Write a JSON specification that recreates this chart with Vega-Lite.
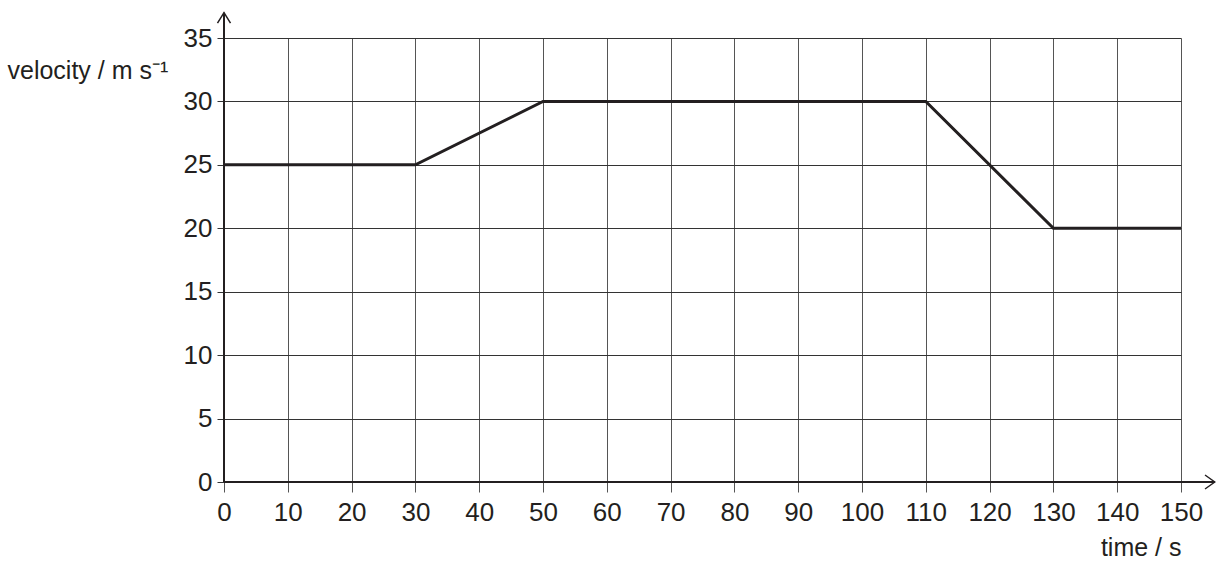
{
  "$schema": "https://vega.github.io/schema/vega-lite/v6.json",
  "width": 957,
  "height": 444,
  "autosize": {"type": "none"},
  "padding": {"left": 224, "top": 38, "right": 35, "bottom": 79},
  "background": "white",
  "config": {
    "view": {"stroke": null},
    "font": "Liberation Sans",
    "axis": {"labelColor": "#231f20", "titleColor": "#231f20"}
  },
  "datasets": {
    "motion": [
      {"time": 0, "velocity": 25},
      {"time": 30, "velocity": 25},
      {"time": 50, "velocity": 30},
      {"time": 110, "velocity": 30},
      {"time": 130, "velocity": 20},
      {"time": 150, "velocity": 20}
    ],
    "axislines": [
      {"time": 0, "velocity": 0, "t2": 155.3, "v2": 0},
      {"time": 0, "velocity": 0, "t2": 0, "v2": 37.0}
    ],
    "xarrow": [{"time": 155.3, "velocity": 0}],
    "yarrow": [{"time": 0, "velocity": 37.0}]
  },
  "encoding": {
    "x": {
      "field": "time",
      "type": "quantitative",
      "scale": {"domain": [0, 150], "nice": false, "zero": false},
      "axis": {
        "values": [0, 10, 20, 30, 40, 50, 60, 70, 80, 90, 100, 110, 120, 130, 140, 150],
        "domain": false,
        "grid": true,
        "gridColor": "#555555",
        "gridWidth": 1,
        "tickColor": "#555555",
        "tickSize": 10,
        "labelFontSize": 26,
        "labelPadding": 7,
        "labelFlush": false,
        "labelOverlap": false,
        "labelBound": false,
        "title": "time / s",
        "titleFontSize": 25,
        "titleFontWeight": "normal",
        "titleAnchor": "end",
        "titleAlign": "right",
        "titleX": 957,
        "titleY": 65,
        "titleBaseline": "middle"
      }
    },
    "y": {
      "field": "velocity",
      "type": "quantitative",
      "scale": {"domain": [0, 35], "nice": false, "zero": false},
      "axis": {
        "values": [0, 5, 10, 15, 20, 25, 30, 35],
        "domain": false,
        "grid": true,
        "gridColor": "#333333",
        "gridWidth": 1,
        "tickColor": "#333333",
        "tickSize": 7,
        "labelFontSize": 26,
        "labelPadding": 5,
        "labelFlush": false,
        "labelOverlap": false,
        "labelBound": false,
        "title": "velocity / m s⁻¹",
        "titleFontSize": 25,
        "titleFontWeight": "normal",
        "titleAngle": 0,
        "titleAlign": "left",
        "titleX": -217,
        "titleY": 32,
        "titleBaseline": "middle"
      }
    }
  },
  "layer": [
    {
      "data": {"name": "motion"},
      "mark": {"type": "line", "color": "#231f20", "strokeWidth": 3}
    },
    {
      "data": {"name": "axislines"},
      "mark": {"type": "rule", "color": "#231f20", "strokeWidth": 2},
      "encoding": {
        "x2": {"field": "t2"},
        "y2": {"field": "v2"}
      }
    },
    {
      "data": {"name": "xarrow"},
      "mark": {"type": "point", "shape": "M-1.4,-1L0,0L-1.4,1", "filled": false, "stroke": "#231f20", "strokeWidth": 1.5, "size": 196, "opacity": 1}
    },
    {
      "data": {"name": "yarrow"},
      "mark": {"type": "point", "shape": "M-1,1.6L0,0L1,1.6", "filled": false, "stroke": "#231f20", "strokeWidth": 1.5, "size": 170, "opacity": 1}
    }
  ]
}
